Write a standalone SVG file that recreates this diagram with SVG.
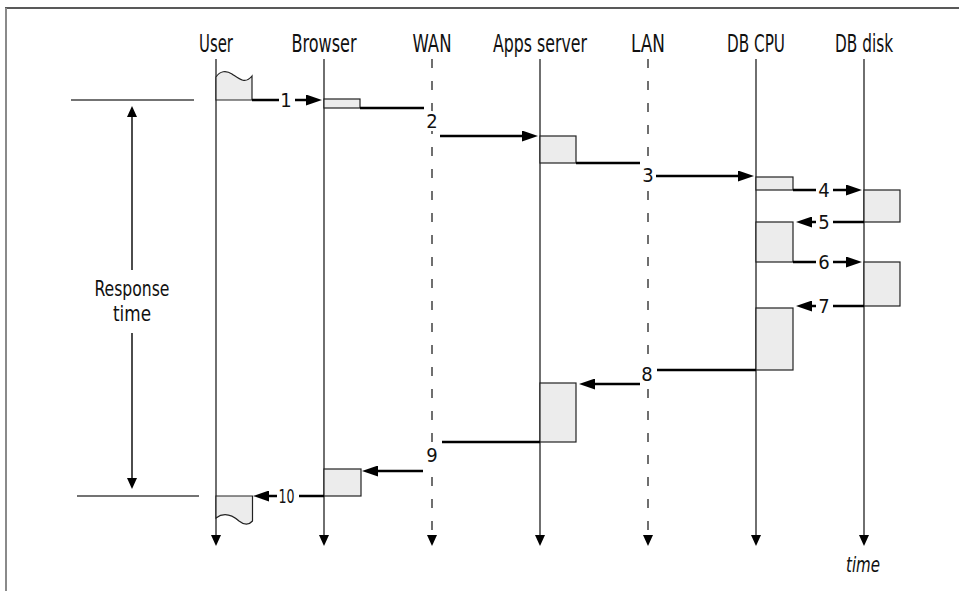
<svg xmlns="http://www.w3.org/2000/svg" width="959" height="591" viewBox="0 0 959 591">
<defs>
<style>
.frame-top{stroke:#222;stroke-width:1.5;fill:none}
.frame-left{stroke:#8a8a8a;stroke-width:2;fill:none}
.life{stroke:#333;stroke-width:1.4;fill:none}
.dash{stroke:#333;stroke-width:1.4;fill:none;stroke-dasharray:9 13}
.ref{stroke:#444;stroke-width:1.5;fill:none}
.msg{stroke:#000;stroke-width:2.5;fill:none}
.box{fill:#ececec;stroke:#222;stroke-width:1.2}
.hdr{font-family:"Liberation Sans Narrow","DejaVu Sans Condensed","Liberation Sans",sans-serif;font-stretch:condensed;font-size:25px;fill:#111;text-anchor:middle}
.num{font-family:"Liberation Sans Narrow","DejaVu Sans Condensed","Liberation Sans",sans-serif;font-stretch:condensed;font-size:20px;fill:#111;text-anchor:middle}
.halo{paint-order:stroke;stroke:#fff;stroke-width:6px}
.lbl{font-family:"Liberation Sans Narrow","DejaVu Sans Condensed","Liberation Sans",sans-serif;font-stretch:condensed;font-size:22px;fill:#111;text-anchor:middle}
.ital{font-family:"Liberation Sans Narrow","DejaVu Sans Condensed","Liberation Sans",sans-serif;font-stretch:condensed;font-style:italic;font-size:21px;fill:#111;text-anchor:middle}
</style>
<marker id="lifeArrow" viewBox="0 0 11 10" refX="6" refY="5" markerWidth="11" markerHeight="10" markerUnits="userSpaceOnUse" orient="auto">
<path d="M0,0 L11,5 L0,10 z" fill="#000"/>
</marker>
<marker id="msgArrow" viewBox="0 0 16 11" refX="8" refY="5.5" markerWidth="16" markerHeight="11" markerUnits="userSpaceOnUse" orient="auto">
<path d="M0,0 L16,5.5 L0,11 z" fill="#000"/>
</marker>
</defs>
<rect x="0" y="0" width="959" height="591" fill="#fff"/>
<g id="frame">
<line class="frame-top" x1="5" y1="8" x2="959" y2="8"/>
<line class="frame-left" x1="6" y1="8" x2="6" y2="591"/>
</g>
<g id="lifeline-user">
<text class="hdr" x="216" y="52" textLength="34" lengthAdjust="spacingAndGlyphs">User</text>
<line class="life" x1="216" y1="59" x2="216" y2="541" marker-end="url(#lifeArrow)"/>
</g>
<g id="lifeline-browser">
<text class="hdr" x="324" y="52" textLength="65" lengthAdjust="spacingAndGlyphs">Browser</text>
<line class="life" x1="324" y1="59" x2="324" y2="541" marker-end="url(#lifeArrow)"/>
</g>
<g id="lifeline-wan">
<text class="hdr" x="432" y="52" textLength="39" lengthAdjust="spacingAndGlyphs">WAN</text>
<line class="dash" x1="432" y1="59" x2="432" y2="541" marker-end="url(#lifeArrow)"/>
</g>
<g id="lifeline-apps">
<text class="hdr" x="540" y="52" textLength="94" lengthAdjust="spacingAndGlyphs">Apps server</text>
<line class="life" x1="540" y1="59" x2="540" y2="541" marker-end="url(#lifeArrow)"/>
</g>
<g id="lifeline-lan">
<text class="hdr" x="648" y="52" textLength="34" lengthAdjust="spacingAndGlyphs">LAN</text>
<line class="dash" x1="648" y1="59" x2="648" y2="541" marker-end="url(#lifeArrow)"/>
</g>
<g id="lifeline-dbcpu">
<text class="hdr" x="756" y="52" textLength="58" lengthAdjust="spacingAndGlyphs">DB CPU</text>
<line class="life" x1="756" y1="59" x2="756" y2="541" marker-end="url(#lifeArrow)"/>
</g>
<g id="lifeline-dbdisk">
<text class="hdr" x="864" y="52" textLength="58" lengthAdjust="spacingAndGlyphs">DB disk</text>
<line class="life" x1="864" y1="59" x2="864" y2="541" marker-end="url(#lifeArrow)"/>
<text class="ital" x="863" y="572" textLength="34" lengthAdjust="spacingAndGlyphs">time</text>
</g>
<g id="response-time">
<line class="ref" x1="71" y1="100" x2="194" y2="100"/>
<line class="ref" x1="77" y1="496" x2="199" y2="496"/>
<line class="life" style="stroke:#000" x1="132" y1="270" x2="132" y2="111" marker-end="url(#lifeArrow)"/>
<line class="life" style="stroke:#000" x1="132" y1="333" x2="132" y2="484" marker-end="url(#lifeArrow)"/>
<text class="lbl" x="132" y="296" textLength="75" lengthAdjust="spacingAndGlyphs">Response</text>
<text class="lbl" x="132" y="321" textLength="38" lengthAdjust="spacingAndGlyphs">time</text>
</g>
<g id="activations">
<path class="box" d="M216,100 V77 C220,71 226,70 232,74 C238,78 245,85 252,76 V100 Z"/>
<rect class="box" x="324" y="99" width="36" height="9"/>
<rect class="box" x="540" y="136" width="36" height="27"/>
<rect class="box" x="756" y="177" width="37" height="13"/>
<rect class="box" x="864" y="190" width="36" height="32"/>
<rect class="box" x="756" y="222" width="37" height="40"/>
<rect class="box" x="864" y="262" width="36" height="44"/>
<rect class="box" x="756" y="308" width="37" height="62"/>
<rect class="box" x="540" y="383" width="36" height="59"/>
<rect class="box" x="324" y="469" width="37" height="27"/>
<path class="box" d="M216,496 H252.5 V521 C249,525 244,525 239,521 C232,515 224,512 216,518 Z"/>
</g>
<g id="connectors">
<line class="msg" x1="252" y1="100" x2="279" y2="100"/>
<line class="msg" x1="295" y1="100" x2="314" y2="100" marker-end="url(#msgArrow)"/>
<line class="msg" x1="360" y1="108" x2="424" y2="108"/>
<line class="msg" x1="440" y1="136" x2="530" y2="136" marker-end="url(#msgArrow)"/>
<line class="msg" x1="576" y1="163" x2="640" y2="163"/>
<line class="msg" x1="656" y1="176" x2="746" y2="176" marker-end="url(#msgArrow)"/>
<line class="msg" x1="793" y1="190" x2="816" y2="190"/>
<line class="msg" x1="833" y1="190" x2="854" y2="190" marker-end="url(#msgArrow)"/>
<line class="msg" x1="864" y1="222" x2="833" y2="222"/>
<line class="msg" x1="816" y1="222" x2="804" y2="222" marker-end="url(#msgArrow)"/>
<line class="msg" x1="793" y1="262" x2="816" y2="262"/>
<line class="msg" x1="833" y1="262" x2="854" y2="262" marker-end="url(#msgArrow)"/>
<line class="msg" x1="864" y1="306" x2="833" y2="306"/>
<line class="msg" x1="816" y1="306" x2="804" y2="306" marker-end="url(#msgArrow)"/>
<line class="msg" x1="756" y1="370" x2="657" y2="370"/>
<line class="msg" x1="640" y1="384" x2="587" y2="384" marker-end="url(#msgArrow)"/>
<line class="msg" x1="540" y1="442" x2="442" y2="442"/>
<line class="msg" x1="423" y1="471" x2="370" y2="471" marker-end="url(#msgArrow)"/>
<line class="msg" x1="324" y1="496" x2="299" y2="496"/>
<line class="msg" x1="277" y1="496" x2="261" y2="496" marker-end="url(#msgArrow)"/>
<text class="num" x="286" y="107">1</text>
<text class="num halo" x="432" y="128">2</text>
<text class="num halo" x="648" y="182">3</text>
<text class="num" x="824" y="197">4</text>
<text class="num" x="824" y="229">5</text>
<text class="num" x="824" y="269">6</text>
<text class="num" x="824" y="313">7</text>
<text class="num halo" x="647" y="381">8</text>
<text class="num halo" x="432" y="462">9</text>
<text class="num" x="286.5" y="503" textLength="16" lengthAdjust="spacingAndGlyphs">10</text>
</g>
</svg>
